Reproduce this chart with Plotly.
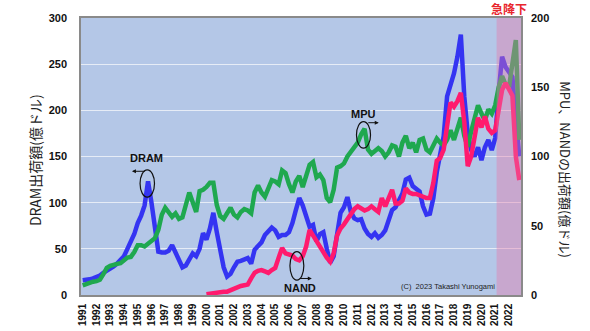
import plotly.graph_objects as go

years = list(range(1991, 2023))
tick_labels = [str(y) for y in years]
quarters = [y + q * 0.25 for y in years for q in range(4)]

dram = [16, 16, 17, 18, 19, 21, 24, 26, 28, 31, 34, 38, 42, 50, 58, 66,
        78, 86, 97, 123, 100, 70, 47, 46, 46, 48, 54, 46, 39, 30, 32, 38,
        45, 42, 50, 67, 60, 72, 89, 68, 48, 30, 20, 23, 30, 36, 37, 39,
        40, 34, 49, 53, 57, 65, 70, 73, 70, 63, 65, 65, 68, 78, 92, 105,
        97, 87, 74, 76, 58, 66, 68, 50, 35, 42, 68, 89, 95, 106, 90, 83,
        81, 82, 72, 66, 63, 67, 62, 65, 70, 80, 92, 95, 102, 110, 125, 127,
        118, 115, 112, 96, 87, 88, 105, 133, 155, 172, 215, 228, 240, 258, 282, 215,
        175, 157, 150, 160, 146, 160, 168, 157, 170, 220, 258, 247, 242, 236, 190, 150]

mpu = [7, 8, 9, 9.6, 10, 11, 15, 19.5, 21, 22, 22.5, 23, 25, 27, 27.5, 31,
       36, 36, 35, 37, 39, 41, 47, 58, 63, 59, 56.5, 59, 55, 56, 64, 74,
       67, 60, 75, 76, 78, 81, 81, 65, 57, 55, 59, 63, 58, 56, 60, 62,
       61, 59, 74, 79, 74, 71, 77, 83, 82, 80, 90, 88, 80, 74, 82, 86,
       78, 86, 94, 96, 85, 87, 83, 70, 67, 76, 92, 93, 95, 100, 103, 106,
       110, 116, 120, 105, 102, 104, 106, 104, 100, 103, 108, 107, 100, 110, 115, 106,
       110, 103, 112, 113, 105, 103, 108, 113, 110, 108, 112, 119, 112, 120, 128, 115,
       107, 118, 128, 137, 131, 126, 134, 131, 137, 150, 158, 152, 150, 165, 184, 112]

nand = [None] * 36 + [
        0.5, 1, 1.5, 2, 2.2, 2.4, 2.4, 3.5, 5, 6, 6.5, 7,
        7.5, 12, 16, 17.5, 18, 17, 16, 18, 19.5, 27, 34, 30, 29, 28.5, 26, 25,
        28, 35, 47, 43, 38, 35, 31, 27, 24, 30, 43, 48, 51, 55, 58, 62,
        64, 62, 61, 62, 64, 62, 60, 70, 64, 70, 76, 66, 66, 68, 77, 74,
        73, 73, 72, 71, 70, 70, 81, 97, 99, 105, 122, 139, 136, 140, 146, 125,
        93, 100, 114, 128, 121, 129, 120, 117, 119, 136, 148, 153, 148, 144, 100, 83]

BLUE = "#3434f2"
GREEN = "#1fa84f"
PINK = "#ff1a6e"

fig = go.Figure()
fig.add_trace(go.Scatter(x=quarters, y=dram, mode="lines", name="DRAM",
                         line=dict(color=BLUE, width=4.5), yaxis="y"))
fig.add_trace(go.Scatter(x=quarters, y=mpu, mode="lines", name="MPU",
                         line=dict(color=GREEN, width=4.5), yaxis="y2"))
fig.add_trace(go.Scatter(x=quarters, y=nand, mode="lines", name="NAND",
                         line=dict(color=PINK, width=4.5), yaxis="y2"))

fam = "Liberation Sans Narrow, Liberation Sans, Arial"
tickfont = dict(family=fam, size=11, color="#111", weight="bold")
jp = "Noto Sans CJK JP"

fig.update_layout(
    template="none",
    width=590, height=331,
    margin=dict(l=81, r=69, t=18, b=36, autoexpand=False),
    paper_bgcolor="white",
    plot_bgcolor="#b4c7e7",
    showlegend=False,
    xaxis=dict(range=[1990.875, 2022.875], tickvals=years, ticktext=tick_labels,
               tickangle=-90, tickfont=dict(family=fam, size=10, color="#111", weight="bold"),
               showgrid=False, zeroline=False, showline=True, linecolor="#8a8a8a",
               linewidth=1.5, mirror=True, ticks="", ticklabelstandoff=3, automargin=False),
    yaxis=dict(range=[0, 300], tickvals=[0, 50, 100, 150, 200, 250, 300],
               tickfont=tickfont, showgrid=True, gridcolor="#e6ecf6", gridwidth=1,
               zeroline=False, showline=True, linecolor="#8a8a8a", linewidth=1.5,
               mirror=True, ticks="", ticklabelstandoff=10, automargin=False),
    yaxis2=dict(range=[0, 200], tickvals=[0, 50, 100, 150, 200], overlaying="y",
                side="right", tickfont=tickfont, showgrid=False, zeroline=False,
                showline=False, ticks="", ticklabelstandoff=9, automargin=False),
)

# shaded "sharp drop" region, drawn above the lines
fig.add_shape(type="rect", xref="x", yref="paper", x0=2021.1, x1=2022.875, y0=0, y1=1,
              fillcolor="rgba(230,120,170,0.4)", line=dict(width=0), layer="above")

# ellipses marking the series
for (x0, x1, y0, y1) in [(1995.17, 1996.22, 106, 135.5),
                         (2010.91, 2011.93, 159, 187.7),
                         (2006.07, 2007.08, 16.2, 46.9)]:
    fig.add_shape(type="circle", xref="x", yref="y", x0=x0, x1=x1, y0=y0, y1=y1,
                  line=dict(color="#111", width=1.2), layer="above")

# arrows
for (hx, hy, tx, ty) in [(1994.58, 134, 1995.62, 134),
                         (2012.53, 186.6, 2011.66, 186.6),
                         (2007.66, 17.9, 2006.68, 17.9)]:
    fig.add_annotation(x=hx, y=hy, ax=tx, ay=ty, xref="x", yref="y", axref="x", ayref="y",
                       text="", showarrow=True, arrowhead=2, arrowsize=0.8, arrowwidth=1,
                       arrowcolor="#111")

labfont = dict(family="Liberation Sans, Arial", size=11, color="#111")
fig.add_annotation(x=1995.67, y=148.4, xref="x", yref="y", text="<b>DRAM</b>",
                   showarrow=False, font=labfont)
fig.add_annotation(x=2011.44, y=196, xref="x", yref="y", text="<b>MPU</b>",
                   showarrow=False, font=labfont)
fig.add_annotation(x=2006.83, y=8.1, xref="x", yref="y", text="<b>NAND</b>",
                   showarrow=False, font=labfont)

fig.add_annotation(x=2021.1, y=2, xref="x", yref="y", xanchor="right", yanchor="bottom",
                   text="(C)  2023 Takashi Yunogami", showarrow=False,
                   font=dict(family=fam, size=7.5, color="#222"))

fig.add_annotation(x=2022.0, y=1, xref="x", yref="paper", xanchor="center", yanchor="bottom",
                   yshift=-1, text="<b>急降下</b>", showarrow=False,
                   font=dict(family=jp, size=12, color="#e8262e"))

# axis titles
fig.add_annotation(x=-0.1045, y=0.487, xref="paper", yref="paper", xanchor="center",
                   yanchor="middle", text="DRAM出荷額(億ドル)",
                   textangle=-90, showarrow=False, font=dict(family=jp, size=14, color="#222"))
fig.add_annotation(x=1.102, y=0.451, xref="paper", yref="paper", xanchor="center",
                   yanchor="middle", text="MPU、NANDの出荷額(億ドル)",
                   textangle=90, showarrow=False, font=dict(family=jp, size=13, color="#222"))

fig.write_html("out.html")
